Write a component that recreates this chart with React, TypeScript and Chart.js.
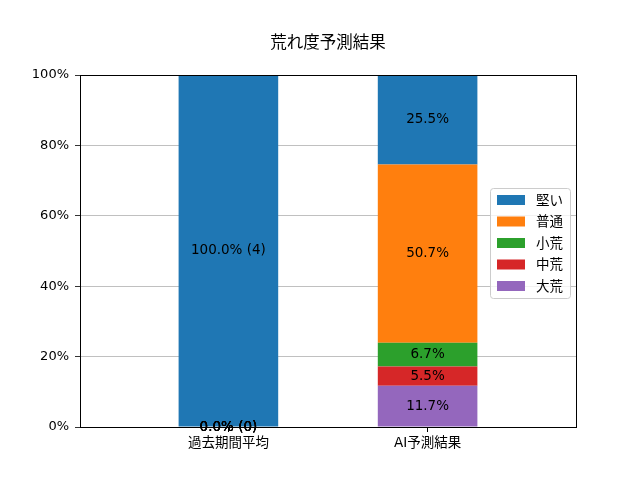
import React, { useEffect, useRef } from "react";
import Chart from "chart.js/auto";

const categories = ["過去期間平均", "AI予測結果"];
const levels = ["堅い", "普通", "小荒", "中荒", "大荒"];
const levelColors = ["#1f77b4", "#ff7f0e", "#2ca02c", "#d62728", "#9467bd"];
const pastPct = [100.0, 0.0, 0.0, 0.0, 0.0];
const pastCount = [4, 0, 0, 0, 0];
const aiPct = [25.5, 50.7, 6.7, 5.5, 11.7];
const yTicks = [0, 20, 40, 60, 80, 100];

const FONT = '"DejaVu Sans", "Noto Sans CJK JP", sans-serif';

const App: React.FC = () => {
  const chartRef = useRef<HTMLCanvasElement | null>(null);

  useEffect(() => {
    if (!chartRef.current) return;
    const ctx = chartRef.current.getContext("2d");
    if (!ctx) return;

    // stack bottom -> top, legend shows top -> bottom
    const order = [4, 3, 2, 1, 0];
    const datasets = order.map((i) => ({
      label: levels[i],
      backgroundColor: levelColors[i],
      data: [
        { x: 0, y: pastPct[i] },
        { x: 1, y: aiPct[i] },
      ],
      barLabels: [`${pastPct[i].toFixed(1)}% (${pastCount[i]})`, `${aiPct[i].toFixed(1)}%`],
      categoryPercentage: 1,
      barPercentage: 0.5,
    }));

    const decor = {
      id: "decor",
      afterDatasetsDraw(chart: any) {
        const c = chart.ctx;
        const area = chart.chartArea;
        c.save();
        // bar labels
        c.fillStyle = "#000";
        c.font = `13.5px ${FONT}`;
        c.textAlign = "center";
        c.textBaseline = "middle";
        chart.data.datasets.forEach((ds: any, di: number) => {
          const meta = chart.getDatasetMeta(di);
          meta.data.forEach((el: any, j: number) => {
            const yc = (el.y + el.base) / 2;
            c.fillText(ds.barLabels[j], el.x, yc);
          });
        });
        // frame
        c.strokeStyle = "#000";
        c.lineWidth = 1;
        c.strokeRect(
          Math.round(area.left) + 0.5,
          Math.round(area.top) + 0.5,
          Math.round(area.right - area.left),
          Math.round(area.bottom - area.top)
        );
        // title
        c.font = `16.5px ${FONT}`;
        c.textBaseline = "middle";
        c.fillText("荒れ度予測結果", (area.left + area.right) / 2, area.top - 31);
        // legend
        const bw = 80;
        const bh = 110;
        const bx = area.right - 6 - bw;
        const by = area.top + 113;
        c.fillStyle = "rgba(255,255,255,0.8)";
        c.strokeStyle = "#cccccc";
        c.beginPath();
        c.roundRect(bx + 0.5, by + 0.5, bw, bh, 3);
        c.fill();
        c.stroke();
        c.font = `13.5px ${FONT}`;
        c.textAlign = "left";
        levels.forEach((lv, i) => {
          const cy = by + 12 + i * 21.5;
          c.fillStyle = levelColors[i];
          c.fillRect(bx + 7, cy - 5, 28, 10);
          c.fillStyle = "#000";
          c.fillText(lv, bx + 46, cy + 1);
        });
        c.restore();
      },
    };

    const chart = new Chart(ctx, {
      type: "bar",
      data: { datasets: datasets as any },
      options: {
        animation: false,
        responsive: false,
        maintainAspectRatio: false,
        layout: { padding: { top: 75, right: 64, left: 0, bottom: 0 } },
        plugins: {
          legend: { display: false },
          title: { display: false },
          tooltip: { enabled: false },
        },
        scales: {
          x: {
            type: "linear",
            stacked: true,
            offset: false,
            min: -0.745,
            max: 1.745,
            afterBuildTicks: (scale: any) => {
              scale.ticks = [{ value: 0 }, { value: 1 }];
            },
            afterFit: (scale: any) => {
              scale.height = 53;
            },
            ticks: {
              color: "#000",
              font: { family: FONT, size: 13.5 },
              padding: 3,
              maxRotation: 0,
              callback: (v: any) => categories[v] ?? "",
            },
            grid: {
              offset: false,
              drawOnChartArea: false,
              drawTicks: true,
              tickLength: 5,
              tickColor: "#000",
            },
            border: { display: false },
          },
          y: {
            stacked: true,
            min: 0,
            max: 100,
            afterBuildTicks: (scale: any) => {
              scale.ticks = yTicks.map((v) => ({ value: v }));
            },
            afterFit: (scale: any) => {
              scale.width = 80;
            },
            ticks: {
              color: "#000",
              font: { family: FONT, size: 13 },
              padding: 6,
              callback: (v: any) => `${v}%`,
            },
            grid: {
              color: "#b0b0b0",
              tickColor: "#000",
              tickLength: 5,
              lineWidth: 0.8,
            },
            border: { display: false },
          },
        },
      },
      plugins: [decor],
    });

    return () => {
      chart.destroy();
    };
  }, []);

  return (
    <div style={{ position: "absolute", left: 0, top: 0, width: 640, height: 480, background: "#fff" }}>
      <canvas ref={chartRef} width={640} height={480} style={{ width: 640, height: 480 }}></canvas>
    </div>
  );
};

export default App;
